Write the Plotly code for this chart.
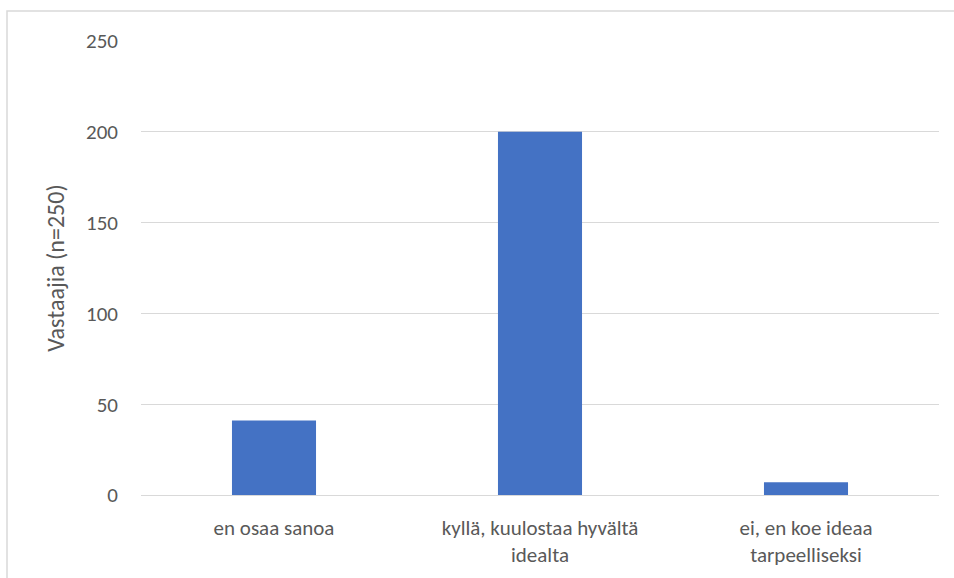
import plotly.graph_objects as go

categories = ["en osaa sanoa", "kyllä, kuulostaa hyvältä<br>idealta", "ei, en koe ideaa<br>tarpeelliseksi"]
values = [41, 200, 7]
y_ticks = [0, 50, 100, 150, 200, 250]

font_family = "Carlito, Calibri, Lato, sans-serif"
text_color = "#595959"

fig = go.Figure(go.Bar(x=categories, y=values, marker_color="#4472C4", marker_line_width=0))

W, H = 954, 578
l, r, t, b = 141, 15, 41, 83
pw, ph = W - l - r, H - t - b

def px(x):
    return (x - l) / pw

def py(y):
    return (H - b - y) / ph

fig.update_layout(
    width=W, height=H,
    margin=dict(l=l, r=r, t=t, b=b),
    paper_bgcolor="white", plot_bgcolor="white",
    bargap=0.684,
    showlegend=False,
    font=dict(family=font_family, size=21, color=text_color),
    xaxis=dict(showgrid=False, showline=False, ticks="", ticklabelstandoff=18, automargin=False,
               tickfont=dict(size=21, color=text_color)),
    yaxis=dict(range=[0, 250], tickvals=y_ticks, showgrid=True, gridcolor="#D9D9D9", gridwidth=1,
               zeroline=True, zerolinecolor="#D9D9D9", zerolinewidth=1, automargin=False,
               showline=False, ticks="", ticklen=0, ticklabelstandoff=22,
               tickfont=dict(size=21, color=text_color),
               title=dict(text="Vastaajia (n=250)", font=dict(size=24, color=text_color), standoff=14)),
    shapes=[dict(type="rect", xref="paper", yref="paper",
                 x0=px(7), x1=px(W + 10), y0=py(H + 10), y1=py(11),
                 line=dict(color="#D9D9D9", width=1.5), fillcolor="rgba(0,0,0,0)", layer="below")],
)

fig.write_html("out.html", config={"displayModeBar": False},
               post_script="document.body.style.margin='0';document.body.style.overflow='hidden';")
